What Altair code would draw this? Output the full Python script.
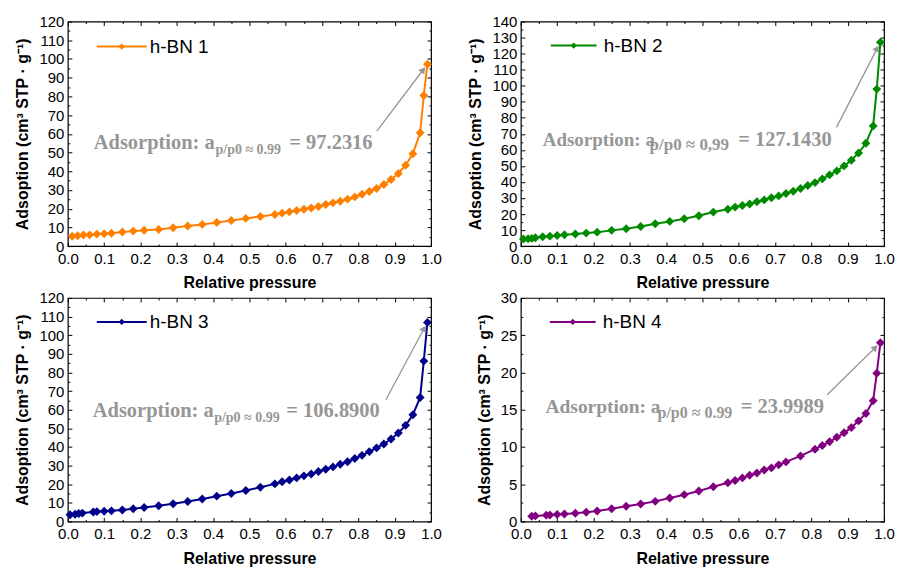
import math
import altair as alt
import pandas as pd

# ---- isotherm data: relative pressure p/p0 and adsorbed volume (cm3 STP/g) ----
p_bn1 = [0.012, 0.027, 0.043, 0.06, 0.08, 0.10, 0.12, 0.15, 0.18, 0.21, 0.25, 0.29, 0.33,
         0.37, 0.41, 0.45, 0.49, 0.53, 0.57, 0.59, 0.61, 0.63, 0.65, 0.67, 0.69, 0.71, 0.73,
         0.75, 0.77, 0.79, 0.81, 0.83, 0.85, 0.87, 0.89, 0.91, 0.93, 0.95, 0.97, 0.98, 0.99]
a_bn1 = [5.3, 5.5, 5.9, 6.0, 6.4, 6.6, 6.9, 7.5, 8.0, 8.5, 8.9, 9.8, 10.7,
         11.6, 12.6, 13.7, 14.8, 15.8, 16.9, 17.6, 18.3, 19.0, 19.7, 20.4, 21.2, 22.2, 23.1,
         24.0, 25.1, 26.3, 27.7, 29.2, 30.8, 32.9, 35.6, 38.8, 43.2, 49.4, 60.6, 80.5, 97.2316]

p_bn2 = [0.007, 0.02, 0.03, 0.04, 0.06, 0.08, 0.10, 0.12, 0.15, 0.18, 0.21, 0.25, 0.29, 0.33,
         0.37, 0.41, 0.45, 0.49, 0.53, 0.57, 0.59, 0.61, 0.63, 0.65, 0.67, 0.69, 0.71, 0.73,
         0.75, 0.77, 0.79, 0.81, 0.83, 0.85, 0.87, 0.89, 0.91, 0.93, 0.95, 0.97, 0.98, 0.99]
a_bn2 = [4.4, 4.6, 4.8, 5.2, 5.8, 6.2, 6.6, 7.1, 7.5, 8.1, 8.7, 9.8, 10.8, 12.2,
         13.9, 15.4, 17.0, 18.9, 21.2, 23.0, 24.3, 25.3, 26.3, 27.6, 28.8, 30.1, 31.3, 32.8,
         34.2, 35.9, 37.8, 39.6, 41.9, 44.4, 46.9, 50.0, 53.5, 58.1, 64.1, 74.9, 97.9, 127.1430]

p_bn3 = [0.006, 0.02, 0.03, 0.04, 0.07, 0.08, 0.10, 0.12, 0.15, 0.18, 0.21, 0.25, 0.29, 0.33,
         0.37, 0.41, 0.45, 0.49, 0.53, 0.57, 0.59, 0.61, 0.63, 0.65, 0.67, 0.69, 0.71, 0.73,
         0.75, 0.77, 0.79, 0.81, 0.83, 0.85, 0.87, 0.89, 0.91, 0.93, 0.95, 0.97, 0.98, 0.99]
a_bn3 = [3.6, 3.9, 4.3, 4.5, 5.1, 5.3, 5.5, 5.7, 6.2, 6.8, 7.5, 8.4, 9.5, 10.7,
         12.1, 13.6, 15.0, 16.6, 18.4, 20.2, 21.3, 22.3, 23.4, 24.5, 25.5, 26.8, 28.0, 29.3,
         30.7, 32.1, 33.8, 35.5, 37.5, 39.5, 41.6, 44.3, 47.5, 51.6, 57.3, 66.6, 86.1, 106.8900]

p_bn4 = [0.03, 0.04, 0.07, 0.08, 0.10, 0.12, 0.15, 0.18, 0.21, 0.25, 0.29, 0.33, 0.37,
         0.41, 0.45, 0.49, 0.53, 0.57, 0.59, 0.61, 0.63, 0.65, 0.67, 0.69, 0.71, 0.73,
         0.77, 0.81, 0.83, 0.85, 0.87, 0.89, 0.91, 0.93, 0.95, 0.97, 0.98, 0.99]
a_bn4 = [0.7, 0.75, 0.85, 0.88, 0.95, 1.0, 1.1, 1.25, 1.4, 1.7, 2.05, 2.35, 2.7,
         3.15, 3.6, 4.1, 4.65, 5.2, 5.5, 5.85, 6.2, 6.5, 6.9, 7.2, 7.6, 8.0,
         8.8, 9.7, 10.2, 10.7, 11.3, 11.9, 12.6, 13.5, 14.5, 16.2, 19.9, 23.9989]

samples = ["h-BN 1", "h-BN 2", "h-BN 3", "h-BN 4"]
sub_labels = ["p/p0 ≈ 0.99", "p/p0 ≈ 0,99", "p/p0 ≈ 0.99", "p/p0 ≈ 0.99"]
y_max = [120, 140, 120, 30]
y_step = [10, 10, 10, 5]
x_ticks = [round(i * 0.1, 1) for i in range(11)]

SANS = "Liberation Sans"
SERIF = "Liberation Serif"
GREY = "#969696"
W = 364

# layout / styling per panel: legend (x0, x1, y, text x); annotation
# (x, baseline, subscript dx, value dx, main size, subscript size)
styles = [
    dict(color="#FF8000", h=225, leg=(29, 79, 25, 82),
         txt=(26, 128, 122, 196, 20.5, 14), arrow_from=(309.7, 109.7)),
    dict(color="#008A00", h=225, leg=(30, 76, 24, 83),
         txt=(22, 124.5, 107, 196, 19, 17), arrow_from=(316.3, 106.0)),
    dict(color="#00008B", h=224, leg=(29, 79, 24, 82),
         txt=(25, 119.7, 121.7, 194, 20.5, 14), arrow_from=(318.7, 102.0)),
    dict(color="#800080", h=224, leg=(29, 75, 24, 82),
         txt=(24.7, 115.3, 112.3, 195.7, 19.5, 16), arrow_from=(307.0, 97.0)),
]
series = [(p_bn1, a_bn1), (p_bn2, a_bn2), (p_bn3, a_bn3), (p_bn4, a_bn4)]


def tick_size(step):
    test = f"abs(datum.value / {step} - round(datum.value / {step})) < 0.001"
    return {"condition": {"test": test, "value": 4}, "value": 2}


def inner_axis(orient, offset, values, step):
    return alt.Axis(orient=orient, offset=offset, values=values, labels=False, domain=False,
                    grid=False, tickSize=tick_size(step), tickColor="black", tickWidth=1,
                    title=None)


def panel(i):
    px, py = series[i]
    st = styles[i]
    H = st["h"]
    ymax, ystep = y_max[i], y_step[i]
    color = st["color"]
    df = pd.DataFrame({"p": px, "a": py})

    xs = alt.Scale(domain=[0, 1], nice=False, zero=False)
    ys = alt.Scale(domain=[0, ymax], nice=False)
    x_all = [round(k * 0.05, 2) for k in range(21)]
    y_major = list(range(0, ymax + 1, ystep))
    y_all = [k * ystep / 2 for k in range(2 * ymax // ystep + 1)]

    label_x = alt.Axis(orient="bottom", values=x_ticks, format=".1f", ticks=False, tickSize=0,
                       domain=False, grid=False, labelFlush=False, labelOverlap=False,
                       labelFont=SANS, labelFontSize=15,
                       labelColor="black", labelPadding=5, title="Relative pressure",
                       titleFont=SANS, titleFontSize=16, titleFontWeight="bold",
                       titleColor="black", titlePadding=9)
    label_y = alt.Axis(orient="left", values=y_major, ticks=False, tickSize=0, domain=False,
                       grid=False, labelFlush=False, labelOverlap=False,
                       labelFont=SANS, labelFontSize=15, labelColor="black",
                       labelPadding=4, title="Adsoption (cm³ STP · g⁻¹)", titleFont=SANS,
                       titleFontSize=16, titleFontWeight="bold", titleColor="black",
                       titlePadding=8)

    curve = alt.Chart(df).mark_line(color=color, strokeWidth=2).encode(
        x=alt.X("p:Q", scale=xs, axis=label_x),
        y=alt.Y("a:Q", scale=ys, axis=label_y),
    )
    # markers also carry the inward ticks of the bottom and left frame edges
    markers = alt.Chart(df).mark_point(shape="diamond", filled=True, size=80, color=color,
                                       opacity=1).encode(
        x=alt.X("p:Q", scale=xs, axis=inner_axis("top", -H, x_all, 0.1)),
        y=alt.Y("a:Q", scale=ys, axis=inner_axis("right", -W, y_all, ystep)),
    )

    # arrow from the end of the annotation to the last point
    sx, sy = st["arrow_from"]
    ex, ey = px[-1] * W, (1 - py[-1] / ymax) * H
    L = math.hypot(ex - sx, ey - sy)
    ux, uy = (ex - sx) / L, (ey - sy) / L
    tipx, tipy = ex - ux * 3, ey - uy * 3
    hx, hy = tipx - ux * 4, tipy - uy * 4
    to_x = lambda v: v / W
    to_y = lambda v: ymax * (1 - v / H)
    arrow_df = pd.DataFrame({"x0": [to_x(sx)], "y0": [to_y(sy)],
                             "x1": [to_x(hx)], "y1": [to_y(hy)]})
    angle = math.degrees(math.atan2(ux, -uy)) % 360
    arrow = alt.Chart(arrow_df).mark_rule(color=GREY, strokeWidth=1.3).encode(
        x=alt.X("x0:Q", scale=xs, axis=inner_axis("bottom", -H, x_all, 0.1)),
        y=alt.Y("y0:Q", scale=ys, axis=inner_axis("left", -W, y_all, ystep)),
        x2="x1:Q", y2="y1:Q",
    )
    head = alt.Chart(arrow_df).mark_point(shape="triangle-up", filled=True, size=55,
                                          color=GREY, opacity=1, angle=angle).encode(
        x=alt.X("x1:Q", scale=xs, axis=None),
        y=alt.Y("y1:Q", scale=ys, axis=None),
    )

    # legend entry
    lx0, lx1, ly, ltx = st["leg"]
    lab = pd.DataFrame({"label": [samples[i]]})
    leg_line = alt.Chart(lab).mark_rule(color=color, strokeWidth=2).encode(
        x=alt.value(lx0), x2=alt.value(lx1), y=alt.value(ly))
    leg_mark = alt.Chart(lab).mark_point(shape="diamond", filled=True, size=40, color=color,
                                         opacity=1).encode(
        x=alt.value((lx0 + lx1) / 2), y=alt.value(ly))
    leg_text = alt.Chart(lab).mark_text(align="left", baseline="middle", font=SANS,
                                        fontSize=19, color="black").encode(
        x=alt.value(ltx), y=alt.value(ly), text="label:N")

    # annotation: Adsorption: a_{p/p0≈0.99} = value
    tx, tb, sub_dx, val_dx, fs, sfs = st["txt"]
    ann = pd.DataFrame({"main": ["Adsorption: a"], "sub": [sub_labels[i]],
                        "val": [f"= {py[-1]:.4f}"]})
    t_main = alt.Chart(ann).mark_text(align="left", baseline="alphabetic", font=SERIF,
                                      fontWeight="bold", fontSize=fs, color=GREY).encode(
        x=alt.value(tx), y=alt.value(tb), text="main:N")
    t_sub = alt.Chart(ann).mark_text(align="left", baseline="alphabetic", font=SERIF,
                                     fontWeight="bold", fontSize=sfs, color=GREY).encode(
        x=alt.value(tx + sub_dx), y=alt.value(tb + 4.5), text="sub:N")
    t_val = alt.Chart(ann).mark_text(align="left", baseline="alphabetic", font=SERIF,
                                     fontWeight="bold", fontSize=20.5, color=GREY).encode(
        x=alt.value(tx + val_dx), y=alt.value(tb), text="val:N")

    return alt.layer(curve, markers, arrow, head, leg_line, leg_mark, leg_text,
                     t_main, t_sub, t_val).resolve_axis(
        x="independent", y="independent").properties(width=W, height=H)


chart = alt.concat(*[panel(i) for i in range(4)], columns=2,
                   spacing={"row": 52, "column": 90}).properties(
    bounds="flush",
    padding={"left": 14, "top": 13, "right": 5, "bottom": 5},
    background="white",
).configure_view(stroke="black", strokeWidth=1.2)

chart.save("out.html", embed_options={"renderer": "svg", "actions": False})
